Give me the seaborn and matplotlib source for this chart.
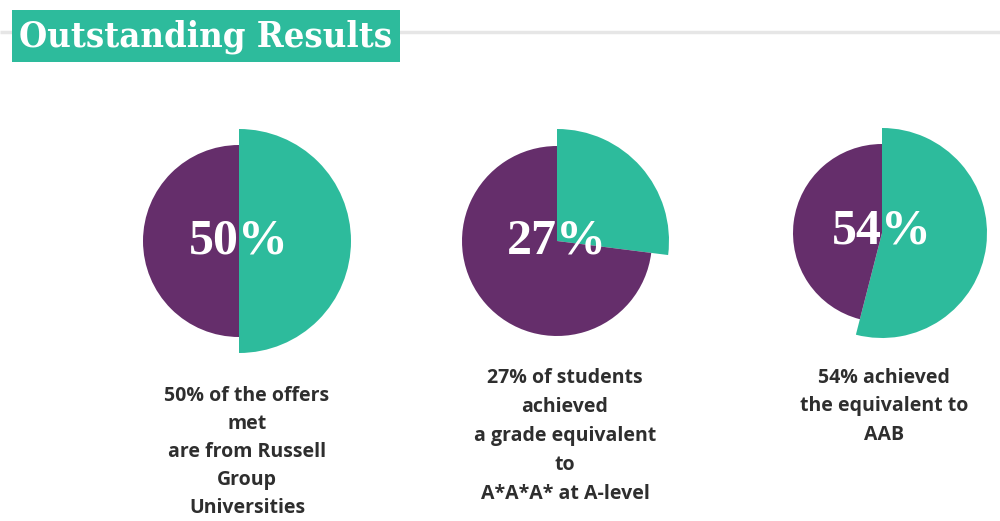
import matplotlib
matplotlib.use("Agg")
import matplotlib.pyplot as plt
import matplotlib.patches as mpatches
from matplotlib import font_manager as fm
import seaborn as sns

# ---- data ----
percents = [50, 27, 54]
pct_labels = ["50%", "27%", "54%"]
captions = [
    ["50% of the offers", "met", "are from Russell", "Group", "Universities"],
    ["27% of students", "achieved", "a grade equivalent", "to", "A*A*A* at A-level"],
    ["54% achieved", "the equivalent to", "AAB"],
]
title = "Outstanding Results"

# ---- style ----
sns.set_theme(style="white")
TEAL = "#2DBB9C"
PURPLE = "#652E6B"
TEXT = "#2E2E2E"
plt.rcParams["font.family"] = ["DejaVu Sans"]

# condensed serif for the title if available
title_fp = fm.FontProperties(family="DejaVu Serif", weight="bold", stretch="condensed")
try:
    path = fm.findfont(title_fp, fallback_to_default=False)
    if "Condensed" not in path:
        title_fp = fm.FontProperties(family="Liberation Serif", weight="bold")
except Exception:
    title_fp = fm.FontProperties(family="Liberation Serif", weight="bold")
print(fm.findfont(title_fp))

W, H = 1000, 521
fig = plt.figure(figsize=(W / 100, H / 100), dpi=100)
ax = fig.add_axes([0, 0, 1, 1])

# layout (image pixel coordinates)
centers = [(239, 241), (557, 241), (882, 233)]
r_purple = [96, 95, 89]
r_teal = [112, 112, 105]
label_pos = [(239, 241), (557, 241), (882, 232)]
cap_x = [247, 565, 884]
cap_base = [401, 383, 383]
cap_step = [28, 29, 28.5]

for i, p in enumerate(percents):
    cx, cy = centers[i]
    wedges, _ = ax.pie([p, 100 - p], colors=[TEAL, PURPLE], startangle=90,
                       counterclock=False, radius=r_purple[i],
                       center=(cx, H - cy), frame=True,
                       wedgeprops=dict(linewidth=0))
    wedges[0].set_radius(r_teal[i])
    lx, ly = label_pos[i]
    ax.text(lx, H - ly, pct_labels[i], color="white", fontsize=36,
            fontweight="bold", family="Liberation Serif",
            ha="center", va="center", zorder=5)
    for j, line in enumerate(captions[i]):
        ax.text(cap_x[i], H - (cap_base[i] + j * cap_step[i]), line,
                color=TEXT, fontsize=14, fontweight="bold", family="Open Sans",
                ha="center", va="baseline")

# header rule and title box
ax.plot([0, W], [H - 32, H - 32], color="#E6E6E6", lw=2.5, zorder=1,
        solid_capstyle="butt")
ax.add_patch(mpatches.Rectangle((12, H - 62), 388, 52, facecolor=TEAL,
                                edgecolor="none", zorder=2))
t = ax.text(206, H - 37, title, color="white", fontproperties=title_fp,
            ha="center", va="center", zorder=3)
t.set_fontsize(30)

ax.set_xlim(0, W)
ax.set_ylim(0, H)
ax.set_aspect("equal", adjustable="box")
ax.axis("off")

# fit title width to box
fig.canvas.draw()
bb = t.get_window_extent(fig.canvas.get_renderer())
target = 372
t.set_fontsize(30 * target / bb.width)

fig.savefig("out.png", dpi=100, facecolor="white")
